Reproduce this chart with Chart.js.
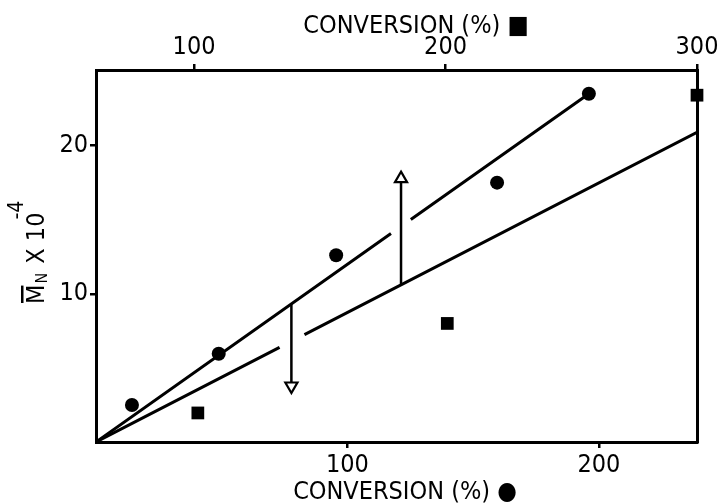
<!DOCTYPE html>
<html>
<head>
<meta charset="utf-8">
<script src="https://cdn.jsdelivr.net/npm/chart.js@4"></script>
<style>
  html, body { margin: 0; padding: 0; background: #fff; }
  #wrap { width: 723px; height: 504px; position: relative; }
</style>
</head>
<body>
<div id="wrap"><canvas id="mnChart"></canvas></div>
<script>
// conversion (bottom scale, circles) vs Mn x 10^-4
const circleConv = [14.3, 48.8, 95.5, 159.5, 196];
const circleMn = [2.5, 5.95, 12.6, 17.5, 23.5];
// conversion (top scale, squares)
const squareConv = [101.5, 200.7, 300];
const squareMn = [1.96, 8.0, 23.4];
// fitted lines (null = break in the drawn line)
const upperFitX = [0, 117.3, 121, 125.2, 196];
const upperFitY = [0, 14.07, null, 15.01, 23.5];
const lowerFitX = [0, 73, 78, 82.9, 239];
const lowerFitY = [0, 6.38, null, 7.25, 20.9];
// arrows: [x, from, to]
const arrowDown = [77.7, 9.3, 3.78];
const arrowUp = [121.3, 10.6, 17.77];
// ticks
const bottomTicks = [100, 200];
const topTicks = [100, 200, 300];
const yTicks = [10, 20];

const FONT = "'Liberation Sans Narrow', 'DejaVu Sans Condensed', 'Roboto', sans-serif";
const toPts = (xs, ys) => xs.map((x, i) => ({ x, y: ys[i] }));

const axisStyle = (ticksList, extra) => Object.assign({
  type: 'linear',
  afterBuildTicks: s => { s.ticks = ticksList.map(v => ({ value: v })); },
  grid: { drawOnChartArea: false, drawTicks: true, tickLength: 6, color: '#000', lineWidth: 2.5 },
  border: { display: true, color: '#000', width: 3 },
  ticks: { color: '#000', font: { family: FONT, size: 25 }, padding: 2, callback: v => String(v) }
}, extra);

const textPlugin = {
  id: 'figText',
  afterDraw(chart) {
    const ctx = chart.ctx;
    ctx.save();
    ctx.fillStyle = '#000';
    ctx.textBaseline = 'alphabetic';
    ctx.textAlign = 'center';
    ctx.font = '25px ' + FONT;
    ctx.fillText('CONVERSION (%) \u25A0', 416, 33);
    ctx.fillText('CONVERSION (%) \u25CF', 405, 499);

    // y title: M(bar)N x 10^-4, rotated
    ctx.translate(44, 304);
    ctx.rotate(-Math.PI / 2);
    ctx.textAlign = 'left';
    ctx.font = '25px ' + FONT;
    let x = 0;
    ctx.fillText('M', x, 0);
    const mw = ctx.measureText('M').width;
    ctx.fillRect(x + 1, -23, mw - 2, 2.5);
    x += mw;
    ctx.font = '16px ' + FONT;
    ctx.fillText('N', x + 1, 3);
    x += ctx.measureText('N').width + 3;
    ctx.font = '25px ' + FONT;
    ctx.fillText(' X 10', x, 0);
    x += ctx.measureText(' X 10').width;
    ctx.font = '21px ' + FONT;
    ctx.fillText('-4', x - 7, -21);
    ctx.restore();
  }
};

new Chart(document.getElementById('mnChart'), {
  type: 'scatter',
  data: {
    datasets: [
      { label: 'arrow heads', order: 0,
        data: [{ x: arrowDown[0], y: arrowDown[2] }, { x: arrowUp[0], y: arrowUp[2] }],
        pointStyle: 'triangle', rotation: [180, 0], pointRadius: 7,
        backgroundColor: '#fff', borderColor: '#000', borderWidth: 2.2, showLine: false },
      { label: 'circles', order: 1, data: toPts(circleConv, circleMn), clip: false,
        pointStyle: 'circle', pointRadius: 7, backgroundColor: '#000', borderColor: '#000', borderWidth: 0 },
      { label: 'squares', order: 1, xAxisID: 'x2', data: toPts(squareConv, squareMn), clip: false,
        pointStyle: 'rect', pointRadius: 9, backgroundColor: '#000', borderColor: '#000', borderWidth: 0 },
      { label: 'down shaft', order: 2,
        data: [{ x: arrowDown[0], y: arrowDown[1] }, { x: arrowDown[0], y: arrowDown[2] }],
        showLine: true, borderColor: '#000', borderWidth: 2.5, pointRadius: 0 },
      { label: 'up shaft', order: 2,
        data: [{ x: arrowUp[0], y: arrowUp[1] }, { x: arrowUp[0], y: arrowUp[2] }],
        showLine: true, borderColor: '#000', borderWidth: 2.5, pointRadius: 0 },
      { label: 'upper fit', order: 3, data: toPts(upperFitX, upperFitY),
        showLine: true, spanGaps: false, borderColor: '#000', borderWidth: 3, pointRadius: 0 },
      { label: 'lower fit', order: 3, data: toPts(lowerFitX, lowerFitY),
        showLine: true, spanGaps: false, borderColor: '#000', borderWidth: 3, pointRadius: 0 }
    ]
  },
  options: {
    responsive: true,
    maintainAspectRatio: false,
    animation: false,
    layout: { padding: 0 },
    plugins: { legend: { display: false }, tooltip: { enabled: false } },
    scales: {
      x: axisStyle(bottomTicks, { position: 'bottom', min: 0, max: 239, afterFit: s => { s.height = 62; } }),
      x2: axisStyle(topTicks, { position: 'top', min: 61, max: 300, afterFit: s => { s.height = 70; } }),
      y: axisStyle(yTicks, { position: 'left', min: 0, max: 25.1, afterFit: s => { s.width = 96; } }),
      y2: { type: 'linear', position: 'right', min: 0, max: 25.1,
        grid: { drawOnChartArea: false, drawTicks: false },
        border: { display: true, color: '#000', width: 3 },
        ticks: { display: false },
        afterFit: s => { s.width = 26; } }
    }
  },
  plugins: [textPlugin]
});
</script>
</body>
</html>
